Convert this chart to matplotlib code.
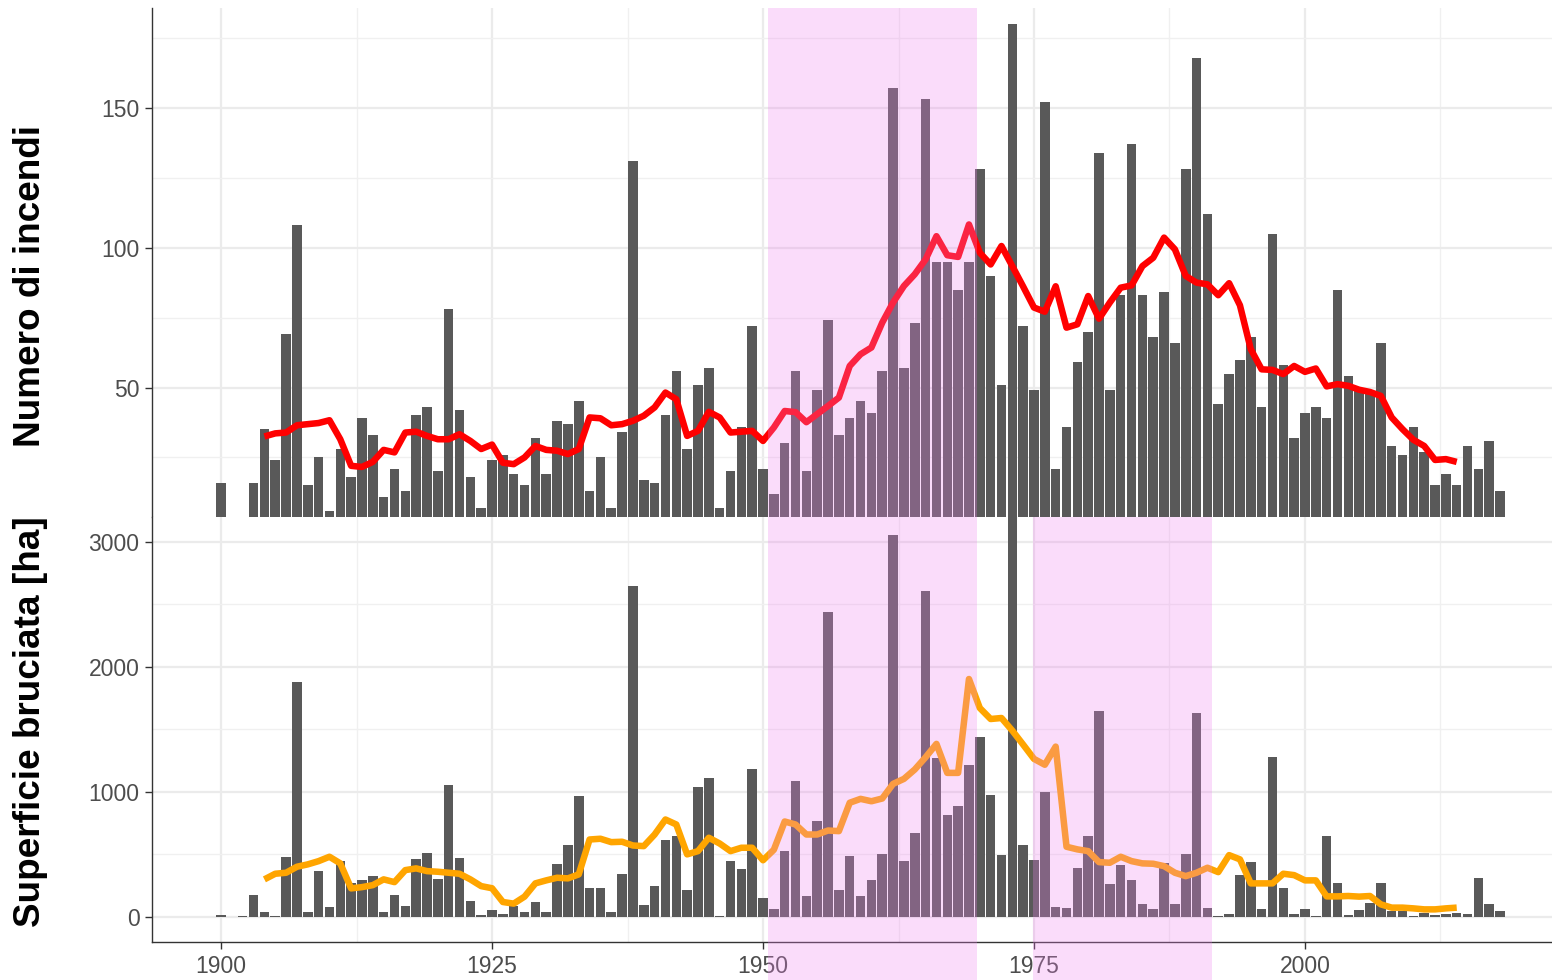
import numpy as np
import matplotlib
matplotlib.use("Agg")
import matplotlib.pyplot as plt

plt.rcParams['font.family'] = ['Liberation Sans', 'DejaVu Sans']

# yearly data, 1900-2018
years = np.arange(1900, 2019)
n_fires = [16, 0, 2, 16, 35, 24, 69, 108, 15, 25,
           6, 28, 18, 39, 33, 11, 21, 13, 40, 43,
           20, 78, 42, 18, 7, 24, 26, 19, 15, 32,
           19, 38, 37, 45, 13, 25, 7, 34, 131, 17,
           16, 40, 56, 28, 51, 57, 7, 20, 36, 72,
           21, 12, 30, 56, 20, 49, 74, 33, 39, 45,
           41, 56, 157, 57, 73, 153, 95, 95, 85, 95,
           128, 90, 51, 180, 72, 49, 152, 21, 36, 59,
           70, 134, 49, 83, 137, 83, 68, 84, 66, 128,
           168, 112, 44, 55, 60, 68, 43, 105, 58, 32,
           41, 43, 39, 85, 54, 50, 48, 66, 29, 26,
           36, 27, 15, 19, 15, 29, 21, 31, 13]
burnt_area = [15, 0, 8, 173, 40, 5, 476, 1877, 37, 364,
              77, 447, 270, 292, 324, 37, 173, 85, 462, 510,
              303, 1051, 466, 125, 13, 56, 18, 85, 37, 117,
              37, 423, 572, 963, 231, 231, 37, 343, 2646, 90,
              245, 612, 649, 213, 1035, 1110, 5, 444, 378, 1182,
              146, 58, 524, 1083, 165, 764, 2436, 210, 482, 165,
              290, 498, 3053, 442, 671, 2604, 1270, 817, 883, 1214,
              1434, 977, 490, 3500, 572, 452, 998, 77, 66, 391,
              644, 1648, 258, 410, 293, 98, 64, 426, 104, 503,
              1626, 72, 5, 24, 330, 436, 64, 1275, 226, 24,
              58, 8, 644, 266, 13, 50, 106, 271, 45, 45,
              5, 32, 10, 18, 32, 18, 306, 98, 45]

# moving averages, 1904-2014
years_ma = np.arange(1904, 2015)
fires_ma = [32.5, 33.6, 33.9, 36.5, 36.9, 37.3, 38.3, 31.5, 22.0, 21.6,
            23.4, 27.7, 26.8, 33.9, 34.2, 32.7, 31.5, 31.5, 33.3, 30.9,
            28.0, 29.6, 23.1, 22.6, 25.0, 29.1, 27.7, 27.4, 26.2, 28.0,
            39.3, 39.0, 36.5, 36.9, 38.1, 39.9, 42.9, 48.2, 45.8, 32.7,
            34.5, 41.3, 39.3, 33.9, 34.2, 34.5, 30.9, 35.7, 41.6, 41.2,
            37.6, 40.5, 43.4, 46.4, 57.7, 61.9, 64.3, 73.2, 80.4, 86.3,
            90.5, 95.8, 104.1, 97.3, 96.7, 108.3, 98.2, 94.0, 100.6, 93.4,
            86.1, 78.6, 77.1, 86.2, 71.4, 72.6, 82.7, 74.6, 80.4, 85.7,
            86.5, 93.4, 96.4, 103.6, 99.4, 89.9, 87.5, 86.9, 83.0, 87.3,
            79.4, 63.7, 56.5, 56.3, 54.8, 57.7, 55.6, 56.8, 50.4, 51.2,
            50.6, 49.2, 48.4, 47.0, 39.3, 35.1, 31.3, 29.1, 24.1, 24.4,
            23.4]
area_ma = [298, 343, 351, 399, 418, 444, 479, 426, 226, 236,
           252, 298, 276, 372, 386, 364, 359, 351, 343, 298,
           244, 227, 117, 104, 160, 266, 290, 311, 306, 338,
           617, 623, 596, 599, 569, 564, 657, 777, 737, 498,
           524, 631, 585, 524, 551, 551, 451, 535, 761, 737,
           657, 657, 689, 684, 911, 942, 923, 945, 1062, 1102,
           1177, 1275, 1382, 1150, 1150, 1901, 1669, 1581, 1589, 1488,
           1376, 1262, 1215, 1360, 559, 538, 524, 436, 431, 479,
           444, 426, 423, 404, 351, 324, 351, 391, 356, 492,
           458, 266, 266, 266, 343, 332, 290, 290, 162, 162,
           165, 160, 165, 98, 72, 72, 66, 58, 58, 66,
           72]

# highlighted periods
spans_top = [(1950.5, 1969.7)]
spans_bottom = [(1950.5, 1969.7), (1974.9, 1991.4)]

W, H = 1552, 980
fig = plt.figure(figsize=(W / 100, H / 100), dpi=100)
ax1 = fig.add_axes([152 / W, 1 - 517 / H, 1400 / W, 509 / H])
ax2 = fig.add_axes([152 / W, 1 - 942 / H, 1400 / W, 425 / H])

xlim = (1893.63, 2022.79)

def style(ax, yticks, yminor, ylim, show_x):
    ax.set_xlim(*xlim)
    ax.set_ylim(*ylim)
    ax.set_xticks([1900, 1925, 1950, 1975, 2000])
    ax.set_xticks([1912.5, 1937.5, 1962.5, 1987.5, 2012.5], minor=True)
    ax.set_yticks(yticks)
    ax.set_yticks(yminor, minor=True)
    ax.grid(True, which='major', color='#EBEBEB', lw=1.6, zorder=0)
    ax.grid(True, which='minor', color='#F0F0F0', lw=1.0, zorder=0)
    ax.set_axisbelow(True)
    for s in ['top', 'right']:
        ax.spines[s].set_visible(False)
    for s in ['left', 'bottom']:
        ax.spines[s].set_color('#333333')
        ax.spines[s].set_linewidth(1.0)
    ax.spines['bottom'].set_visible(show_x)
    ax.tick_params(which='major', direction='out', length=5, width=1,
                   color='#333333', labelcolor='#4D4D4D', labelsize=16.5, pad=4)
    ax.tick_params(which='minor', length=0)
    if not show_x:
        ax.tick_params(axis='x', which='both', bottom=False, labelbottom=False)

style(ax1, [50, 100, 150], [25, 75, 125, 175], (3.7, 185.7), False)
style(ax2, [0, 1000, 2000, 3000], [500, 1500, 2500], (-203, 3197), True)

ax1.bar(years, n_fires, width=0.88, color='#595959', zorder=2)
ax1.plot(years_ma, fires_ma, color='red', lw=4.7, zorder=3,
         solid_joinstyle='round', solid_capstyle='butt')
for a, b in spans_top:
    ax1.axvspan(a, b, color='violet', alpha=0.28, lw=0, zorder=4)

ax2.bar(years, burnt_area, width=0.88, color='#595959', zorder=2)
ax2.plot(years_ma, area_ma, color='orange', lw=4.7, zorder=3,
         solid_joinstyle='round', solid_capstyle='butt')
for a, b in spans_bottom:
    ax2.axvspan(a, b, ymin=-38 / 425, ymax=1, color='violet', alpha=0.28,
                lw=0, zorder=4, clip_on=False)

fig.text(31 / W, 1 - 286 / H, 'Numero di incendi', rotation=90,
         ha='center', va='center', fontsize=26.6, fontweight='bold')
fig.text(31 / W, 1 - 722 / H, 'Superficie bruciata [ha]', rotation=90,
         ha='center', va='center', fontsize=26.6, fontweight='bold')

fig.savefig('out.png', dpi=100, facecolor='white')
